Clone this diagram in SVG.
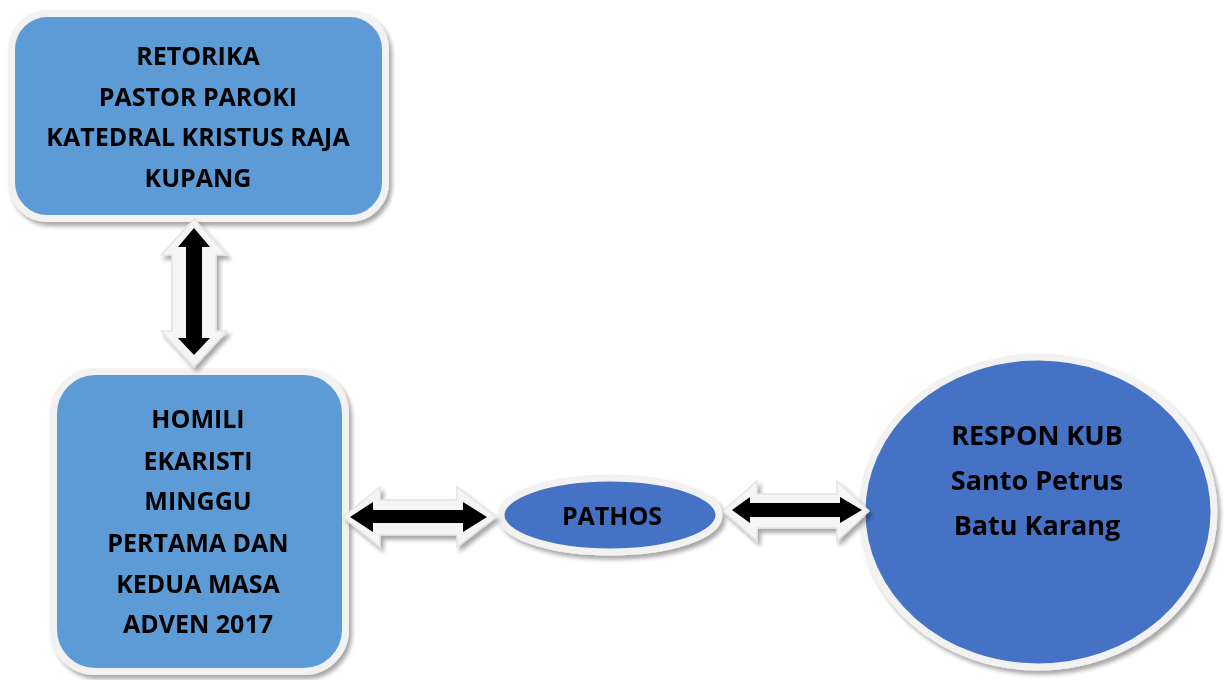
<svg xmlns="http://www.w3.org/2000/svg" width="1226" height="680" viewBox="0 0 1226 680">
<defs>
<filter id="sh" x="-10%" y="-10%" width="130%" height="130%">
<feGaussianBlur in="SourceAlpha" stdDeviation="2"/>
<feOffset dx="3" dy="4" result="b"/>
<feComponentTransfer><feFuncA type="linear" slope="0.35"/></feComponentTransfer>
<feMerge><feMergeNode/><feMergeNode in="SourceGraphic"/></feMerge>
</filter>
</defs>
<style>
.box{fill:#5b9bd5;stroke:#f2f2f2;stroke-width:7}
.ell{fill:#4472c4;stroke:#f2f2f2;stroke-width:7}
.t{font-family:"Open Sans","Noto Sans",sans-serif;font-weight:bold;font-size:25px;fill:#000;text-anchor:middle}
.tl{font-size:27px}
.ao{fill:#f5f5f5;stroke:#e4e4e4;stroke-width:1.5;stroke-linejoin:miter}
.ab{fill:#000}
</style>
<rect width="1226" height="680" fill="#fff"/>
<g id="retorika" filter="url(#sh)">
<rect class="box" x="11.5" y="13.5" width="374" height="205" rx="36"/>
<text class="t" x="198" y="65">RETORIKA</text>
<text class="t" x="198" y="106">PASTOR PAROKI</text>
<text class="t" x="198" y="146">KATEDRAL KRISTUS RAJA</text>
<text class="t" x="198" y="187">KUPANG</text>
</g>
<g id="homili" filter="url(#sh)">
<rect class="box" x="53.5" y="371.5" width="292" height="300" rx="42"/>
<text class="t" x="198" y="428">HOMILI</text>
<text class="t" x="198" y="470">EKARISTI</text>
<text class="t" x="198" y="510">MINGGU</text>
<text class="t" x="198" y="552">PERTAMA DAN</text>
<text class="t" x="198" y="593">KEDUA MASA</text>
<text class="t" x="198" y="633">ADVEN 2017</text>
</g>
<g id="pathos" filter="url(#sh)">
<ellipse class="ell" cx="610" cy="515" rx="109" ry="37"/>
<text class="t" x="612" y="525">PATHOS</text>
</g>
<g id="respon" filter="url(#sh)">
<ellipse class="ell" cx="1038" cy="512" rx="176" ry="155"/>
<text class="t tl" x="1037" y="445">RESPON KUB</text>
<text class="t tl" x="1037" y="490">Santo Petrus</text>
<text class="t tl" x="1037" y="535">Batu Karang</text>
</g>
<g id="connectors">
<polygon class="ao" filter="url(#sh)" points="194,219 227,255 216,255 216,331 227,331 194,367 161,331 172,331 172,255 161,255"/>
<polygon class="ab" points="194,228 210,247 202,247 202,338 210,338 194,355 178,338 186,338 186,247 178,247"/>
<polygon class="ao" filter="url(#sh)" points="343,517 380,487 380,500 457,500 457,487 496,517 457,547 457,535 380,535 380,547"/>
<polygon class="ab" points="350,517 373,502 373,510 463,510 463,502 487,517 463,532 463,523 373,523 373,532"/>
<polygon class="ao" filter="url(#sh)" points="723,511 757,481 757,494 837,494 837,481 869,511 837,541 837,528 757,528 757,541"/>
<polygon class="ab" points="732,510 750,497 750,503 840,503 840,497 862,510 840,523 840,517 750,517 750,523"/>
</g>
</svg>
